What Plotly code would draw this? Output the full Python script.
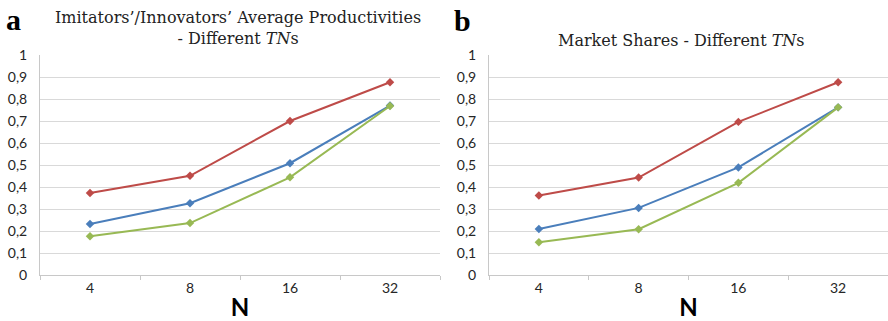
import plotly.graph_objects as go

# Categories along the horizontal axis
n_values = ["4", "8", "16", "32"]

# Panel a: imitators'/innovators' average productivities
prod_red = [0.373, 0.451, 0.700, 0.876]
prod_blue = [0.232, 0.326, 0.508, 0.770]
prod_green = [0.176, 0.236, 0.444, 0.768]

# Panel b: market shares
share_red = [0.361, 0.443, 0.696, 0.876]
share_blue = [0.209, 0.305, 0.489, 0.762]
share_green = [0.149, 0.208, 0.419, 0.762]

# Vertical-axis ticks (comma decimal separator)
y_tickvals = [0, 0.1, 0.2, 0.3, 0.4, 0.5, 0.6, 0.7, 0.8, 0.9, 1]
y_ticktext = ["0", "0,1", "0,2", "0,3", "0,4", "0,5", "0,6", "0,7", "0,8", "0,9", "1"]

W, H = 888, 321
RED, BLUE, GREEN = "#BE4B48", "#4A7EBB", "#98B954"
GRID = "#D9D9D9"
AXIS = "#C8C8C8"
TICK_FONT = dict(family="Lato, Open Sans, sans-serif", size=14, color="#262626")
SERIF = "DejaVu Serif, Liberation Serif, serif"


def px_x(x):
    return x / W


def px_y(y):
    return 1 - y / H


fig = go.Figure()

panels = [
    ("x", "y", [prod_red, prod_blue, prod_green]),
    ("x2", "y2", [share_red, share_blue, share_green]),
]
for xa, ya, series in panels:
    for vals, col in zip(series, [RED, BLUE, GREEN]):
        fig.add_trace(go.Scatter(
            x=n_values, y=vals, xaxis=xa, yaxis=ya,
            mode="lines+markers",
            line=dict(color=col, width=2),
            marker=dict(symbol="diamond", size=6.5, color=col),
            showlegend=False,
        ))

y_dom = [px_y(275), px_y(55)]

common_x = dict(
    type="category", range=[-0.5, 3.5], showgrid=False, zeroline=False,
    showline=True, linecolor=AXIS, linewidth=1, automargin=False,
    ticks="outside", tickson="boundaries", ticklen=4, tickcolor=AXIS,
    tickfont=TICK_FONT,
    title=dict(text="<b>N</b>", font=dict(family="Lato, Open Sans, sans-serif", size=24, color="#000"), standoff=5),
)
common_y = dict(
    range=[0, 1], tickvals=y_tickvals, ticktext=y_ticktext, automargin=False,
    showgrid=True, gridcolor=GRID, gridwidth=1, zeroline=False,
    showline=True, linecolor=AXIS, linewidth=1, ticks="",
    tickfont=TICK_FONT, ticklabelstandoff=9,
)

fig.update_layout(
    width=W, height=H,
    margin=dict(l=0, r=0, t=0, b=0, autoexpand=False),
    paper_bgcolor="white", plot_bgcolor="white",
    xaxis=dict(domain=[px_x(40), px_x(440)], anchor="y", **common_x),
    yaxis=dict(domain=y_dom, anchor="x", **common_y),
    xaxis2=dict(domain=[px_x(489), px_x(888)], anchor="y2", **common_x),
    yaxis2=dict(domain=y_dom, anchor="x2", **common_y),
)

annotations = [
    dict(text="<b>a</b>", x=px_x(14), y=px_y(19), font=dict(family="Liberation Serif, serif", size=30, color="#000")),
    dict(text="<b>b</b>", x=px_x(463), y=px_y(20), font=dict(family="Liberation Serif, serif", size=30, color="#000")),
    dict(text="Imitators’/Innovators’ Average Productivities<br>- Different <i>TN</i>s",
         x=px_x(238), y=px_y(28), font=dict(family=SERIF, size=16, color="#222")),
    dict(text="Market Shares - Different <i>TN</i>s", x=px_x(681), y=px_y(40),
         font=dict(family=SERIF, size=16, color="#222")),
]
for a in annotations:
    fig.add_annotation(xref="paper", yref="paper", showarrow=False,
                       xanchor="center", yanchor="middle", **a)

fig.write_html("out.html")
